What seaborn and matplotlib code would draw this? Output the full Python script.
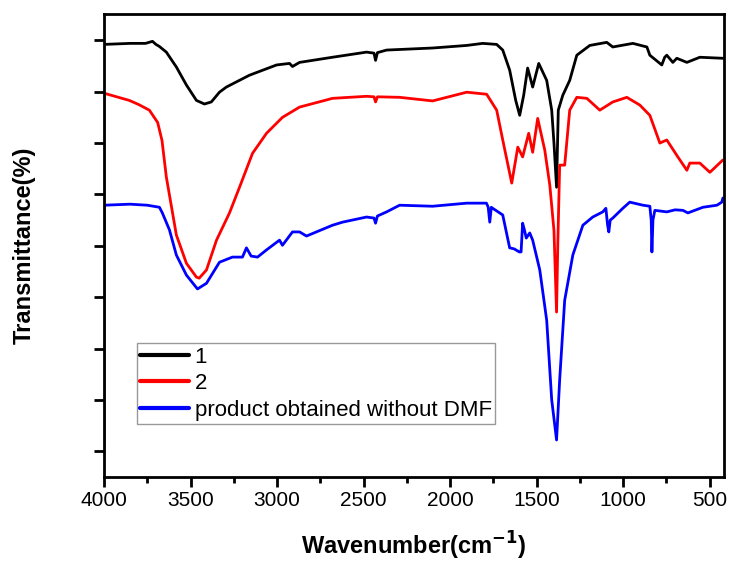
import matplotlib.pyplot as plt
import matplotlib.ticker as ticker
import numpy as np
import pandas as pd
import seaborn as sns

# FTIR spectra (wavenumber in cm-1, transmittance in arbitrary %)
black_wn = [4000, 3850, 3760, 3720, 3700, 3680, 3640, 3582, 3524, 3466, 3420, 3380, 3333, 3293,
            3160, 3003, 2928, 2911, 2870, 2680, 2483, 2440, 2431, 2420, 2367, 2101, 1904, 1812,
            1731, 1696, 1656, 1621, 1598, 1575, 1552, 1523, 1488, 1442, 1413, 1400, 1385, 1375,
            1349, 1309, 1268, 1193, 1095, 1060, 944, 863, 846, 777, 760, 748, 713, 690, 632,
            557, 424]
black_t = [84.2, 84.4, 84.4, 84.8, 84.2, 83.8, 82.7, 79.8, 76.3, 73.3, 72.6, 73.0, 74.9, 75.9,
           78.2, 80.2, 80.5, 79.9, 80.7, 81.7, 82.7, 82.5, 81.1, 82.6, 83.1, 83.5, 84.0, 84.4,
           84.2, 83.1, 79.2, 73.3, 70.4, 74.3, 79.6, 75.9, 80.5, 77.2, 71.4, 65.0, 56.4, 71.4,
           74.3, 77.2, 82.1, 84.0, 84.6, 83.7, 84.4, 83.7, 82.1, 80.2, 81.7, 82.1, 80.7, 81.5, 80.7,
           81.7, 81.5]

red_wn = [4000, 4000, 3854, 3800, 3738, 3690, 3665, 3640, 3582, 3524, 3466, 3450, 3408, 3350,
          3275, 3217, 3142, 3061, 2969, 2870, 2680, 2483, 2440, 2431, 2420, 2292, 2101, 1904,
          1789, 1731, 1696, 1644, 1609, 1581, 1546, 1523, 1494, 1453, 1424, 1400, 1385, 1378,
          1367, 1338, 1309, 1268, 1210, 1135, 1060, 979, 904, 846, 788, 748, 690, 632, 615,
          557, 499, 424]
red_t = [45.0, 74.7, 73.3, 72.5, 71.4, 69.0, 65.5, 58.4, 47.1, 41.6, 38.9, 38.7, 40.3, 46.1,
         51.4, 56.4, 63.0, 66.9, 70.0, 72.0, 73.7, 74.1, 74.0, 73.0, 74.0, 73.9, 73.2, 74.9,
         74.5, 71.4, 65.6, 57.2, 64.2, 62.3, 66.9, 63.2, 69.8, 63.6, 56.8, 48.0, 32.1, 45.0,
         60.7, 60.7, 71.4, 73.9, 73.7, 71.4, 73.0, 73.9, 72.4, 70.4, 65.0, 65.6, 62.6, 59.7, 61.1,
         61.1, 59.3, 61.7]

blue_wn = [4000, 4000, 3850, 3750, 3680, 3663, 3622, 3582, 3524, 3460, 3408, 3333, 3258, 3200,
           3177, 3150, 3113, 3061, 2986, 2969, 2911, 2870, 2830, 2680, 2622, 2483, 2440, 2431,
           2420, 2367, 2292, 2101, 1904, 1790, 1780, 1771, 1762, 1754, 1696, 1656, 1630, 1600,
           1590, 1581, 1570, 1560, 1540, 1523, 1482, 1442, 1413, 1385, 1367, 1338, 1291, 1233,
           1176, 1118, 1100, 1090, 1083, 1075, 1060, 1002, 962, 886, 846, 838, 834, 828, 817,
           748, 700, 655, 626, 539, 458, 430, 424]
blue_t = [4.5, 52.9, 53.1, 52.9, 52.5, 51.4, 48.1, 43.2, 39.3, 36.6, 37.7, 41.8, 42.8, 42.8,
          44.6, 43.0, 42.8, 44.2, 46.1, 45.1, 47.7, 47.7, 46.9, 49.0, 49.6, 50.6, 50.4, 49.4,
          50.8, 51.6, 52.9, 52.7, 53.3, 53.3, 52.5, 49.6, 52.5, 52.3, 51.0, 44.6, 44.4, 43.8,
          43.8, 49.4, 48.0, 46.5, 47.5, 46.1, 40.3, 30.5, 15.0, 7.2, 18.9, 34.4, 43.2, 49.0,
          50.6, 51.6, 52.3, 49.0, 47.7, 50.0, 50.4, 52.3, 53.5, 52.9, 52.7, 50.0, 43.8, 50.0, 51.9,
          51.6, 52.0, 51.9, 51.4, 52.5, 52.9, 53.5, 54.3]

labels = ["1", "2", "product obtained without DMF"]
colors = ["#000000", "#ff0000", "#0000ff"]

frames = []
for lab, wn, t in zip(labels, [black_wn, red_wn, blue_wn], [black_t, red_t, blue_t]):
    frames.append(pd.DataFrame({"wn": wn, "T": t, "sample": lab}))
df = pd.concat(frames, ignore_index=True)

sns.set_style("ticks")
plt.rcParams["font.family"] = ["Liberation Sans", "DejaVu Sans"]
plt.rcParams["text.color"] = "black"
plt.rcParams["axes.labelcolor"] = "black"
plt.rcParams["xtick.color"] = "black"
plt.rcParams["ytick.color"] = "black"
plt.rcParams["axes.edgecolor"] = "black"

fig, ax = plt.subplots(figsize=(7.29, 5.64), dpi=100)
fig.subplots_adjust(left=0.1427, right=0.993, bottom=0.1543, top=0.975)

sns.lineplot(data=df, x="wn", y="T", hue="sample", palette=dict(zip(labels, colors)),
             estimator=None, sort=False, linewidth=2, ax=ax)

ax.set_xlim(4000, 418)
ax.set_ylim(0, 90.1)
ax.set_xticks(np.arange(4000, 400, -500))
ax.xaxis.set_minor_locator(ticker.MultipleLocator(250))
ax.set_yticks(np.arange(5, 90, 10))
ax.set_yticklabels([])

for s in ax.spines.values():
    s.set_visible(True)
    s.set_linewidth(2)
ax.tick_params(axis="both", which="major", direction="out", length=7, width=2,
               labelsize=15, pad=3)
ax.tick_params(axis="x", which="minor", direction="out", length=4, width=2)

ax.set_xlabel("Wavenumber(cm$^{\\mathbf{-1}}$)", fontsize=17, fontweight="bold")
ax.set_ylabel("Transmittance(%)", fontsize=17, fontweight="bold")
ax.xaxis.set_label_coords(0.5, -0.115)
ax.yaxis.set_label_coords(-0.11, 0.5)

leg = ax.legend(loc="upper left", bbox_to_anchor=(0.053, 0.289), borderaxespad=0,
                fontsize=16, frameon=True, fancybox=False, handlelength=2.2,
                handletextpad=0.25, labelspacing=0.25, borderpad=0.15)
leg.get_frame().set_edgecolor("#808080")
leg.get_frame().set_linewidth(1)
for line in leg.get_lines():
    line.set_linewidth(3)

plt.savefig("out.png", dpi=100)
